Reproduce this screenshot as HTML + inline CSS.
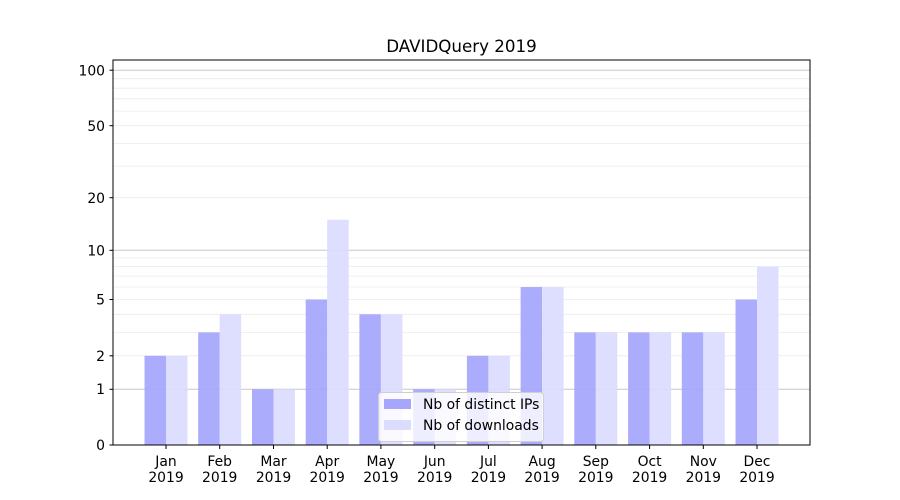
<!DOCTYPE html>
<html><head><style>body{margin:0;background:#fff}svg{display:block}text{font-family:"DejaVu Sans","Liberation Sans",sans-serif;fill:#000}</style></head>
<body>
<svg width="900" height="500" viewBox="0 0 900 500" xmlns="http://www.w3.org/2000/svg">
<rect width="900" height="500" fill="#fff"/>
<g stroke="#ebebeb" stroke-width="0.8">
<line x1="113" x2="810" y1="355.8" y2="355.8"/><line x1="113" x2="810" y1="332.4" y2="332.4"/><line x1="113" x2="810" y1="314.3" y2="314.3"/><line x1="113" x2="810" y1="299.5" y2="299.5"/><line x1="113" x2="810" y1="287" y2="287"/><line x1="113" x2="810" y1="276.1" y2="276.1"/><line x1="113" x2="810" y1="266.6" y2="266.6"/><line x1="113" x2="810" y1="258" y2="258"/>
<line x1="113" x2="810" y1="197.7" y2="197.7"/><line x1="113" x2="810" y1="166.1" y2="166.1"/><line x1="113" x2="810" y1="143.4" y2="143.4"/><line x1="113" x2="810" y1="125.7" y2="125.7"/><line x1="113" x2="810" y1="111.1" y2="111.1"/><line x1="113" x2="810" y1="98.8" y2="98.8"/><line x1="113" x2="810" y1="88.2" y2="88.2"/><line x1="113" x2="810" y1="78.7" y2="78.7"/>
</g>
<g stroke="#c8c8c8" stroke-width="1">
<line x1="113" x2="810" y1="389.3" y2="389.3"/><line x1="113" x2="810" y1="250.3" y2="250.3"/><line x1="113" x2="810" y1="70.2" y2="70.2"/>
</g>
<g fill="#a6a6fc" fill-opacity="0.93">
<rect x="144.5" width="21.5" y="355.8" height="89.2"/>
<rect x="198.2" width="21.5" y="332.4" height="112.6"/>
<rect x="252" width="21.5" y="389.3" height="55.7"/>
<rect x="305.7" width="21.5" y="299.5" height="145.5"/>
<rect x="359.4" width="21.5" y="314.3" height="130.7"/>
<rect x="413.2" width="21.5" y="389.3" height="55.7"/>
<rect x="466.9" width="21.5" y="355.8" height="89.2"/>
<rect x="520.6" width="21.5" y="287" height="158"/>
<rect x="574.3" width="21.5" y="332.4" height="112.6"/>
<rect x="628.1" width="21.5" y="332.4" height="112.6"/>
<rect x="681.8" width="21.5" y="332.4" height="112.6"/>
<rect x="735.5" width="21.5" y="299.5" height="145.5"/>
</g>
<g fill="#dcdcff" fill-opacity="0.93">
<rect x="166" width="21.5" y="355.8" height="89.2"/>
<rect x="219.7" width="21.5" y="314.3" height="130.7"/>
<rect x="273.5" width="21.5" y="389.3" height="55.7"/>
<rect x="327.2" width="21.5" y="219.8" height="225.2"/>
<rect x="380.9" width="21.5" y="314.3" height="130.7"/>
<rect x="434.7" width="21.5" y="389.3" height="55.7"/>
<rect x="488.4" width="21.5" y="355.8" height="89.2"/>
<rect x="542.1" width="21.5" y="287" height="158"/>
<rect x="595.8" width="21.5" y="332.4" height="112.6"/>
<rect x="649.6" width="21.5" y="332.4" height="112.6"/>
<rect x="703.3" width="21.5" y="332.4" height="112.6"/>
<rect x="757" width="21.5" y="266.6" height="178.4"/>
</g>
<rect x="113" y="60" width="697" height="385" fill="none" stroke="#000" stroke-width="1"/>
<g stroke="#000" stroke-width="1">
<line x1="109.5" x2="113" y1="445" y2="445"/><line x1="109.5" x2="113" y1="389.3" y2="389.3"/><line x1="109.5" x2="113" y1="355.8" y2="355.8"/><line x1="109.5" x2="113" y1="299.5" y2="299.5"/><line x1="109.5" x2="113" y1="250.3" y2="250.3"/><line x1="109.5" x2="113" y1="197.7" y2="197.7"/><line x1="109.5" x2="113" y1="125.7" y2="125.7"/><line x1="109.5" x2="113" y1="70.2" y2="70.2"/>
<line x1="166" x2="166" y1="445" y2="449"/><line x1="219.7" x2="219.7" y1="445" y2="449"/><line x1="273.5" x2="273.5" y1="445" y2="449"/><line x1="327.2" x2="327.2" y1="445" y2="449"/><line x1="380.9" x2="380.9" y1="445" y2="449"/><line x1="434.7" x2="434.7" y1="445" y2="449"/><line x1="488.4" x2="488.4" y1="445" y2="449"/><line x1="542.1" x2="542.1" y1="445" y2="449"/><line x1="595.8" x2="595.8" y1="445" y2="449"/><line x1="649.6" x2="649.6" y1="445" y2="449"/><line x1="703.3" x2="703.3" y1="445" y2="449"/><line x1="757" x2="757" y1="445" y2="449"/>
</g>
<g font-size="13.9" text-anchor="end">
<text x="105" y="450">0</text><text x="105" y="394">1</text><text x="105" y="361">2</text><text x="105" y="304.5">5</text><text x="105" y="255.5">10</text><text x="105" y="203">20</text><text x="105" y="131">50</text><text x="105" y="75.5">100</text>
</g>
<g font-size="13.9" text-anchor="middle">
<text x="166" y="466">Jan</text><text x="166" y="482">2019</text>
<text x="219.7" y="466">Feb</text><text x="219.7" y="482">2019</text>
<text x="273.5" y="466">Mar</text><text x="273.5" y="482">2019</text>
<text x="327.2" y="466">Apr</text><text x="327.2" y="482">2019</text>
<text x="380.9" y="466">May</text><text x="380.9" y="482">2019</text>
<text x="434.7" y="466">Jun</text><text x="434.7" y="482">2019</text>
<text x="488.4" y="466">Jul</text><text x="488.4" y="482">2019</text>
<text x="542.1" y="466">Aug</text><text x="542.1" y="482">2019</text>
<text x="595.8" y="466">Sep</text><text x="595.8" y="482">2019</text>
<text x="649.6" y="466">Oct</text><text x="649.6" y="482">2019</text>
<text x="703.3" y="466">Nov</text><text x="703.3" y="482">2019</text>
<text x="757" y="466">Dec</text><text x="757" y="482">2019</text>
<text x="461.5" y="52" font-size="16.7">DAVIDQuery 2019</text>
</g>
<rect x="378.5" y="392.5" width="165" height="49" rx="3" fill="#fff" fill-opacity="0.8" stroke="#d0d0d0"/>
<rect x="384" y="399" width="27" height="10" fill="#a6a6fc"/>
<rect x="384" y="420" width="27" height="10" fill="#dcdcff"/>
<g font-size="13.9"><text x="423" y="409">Nb of distinct IPs</text><text x="423" y="430">Nb of downloads</text></g>
</svg>
</body></html>
